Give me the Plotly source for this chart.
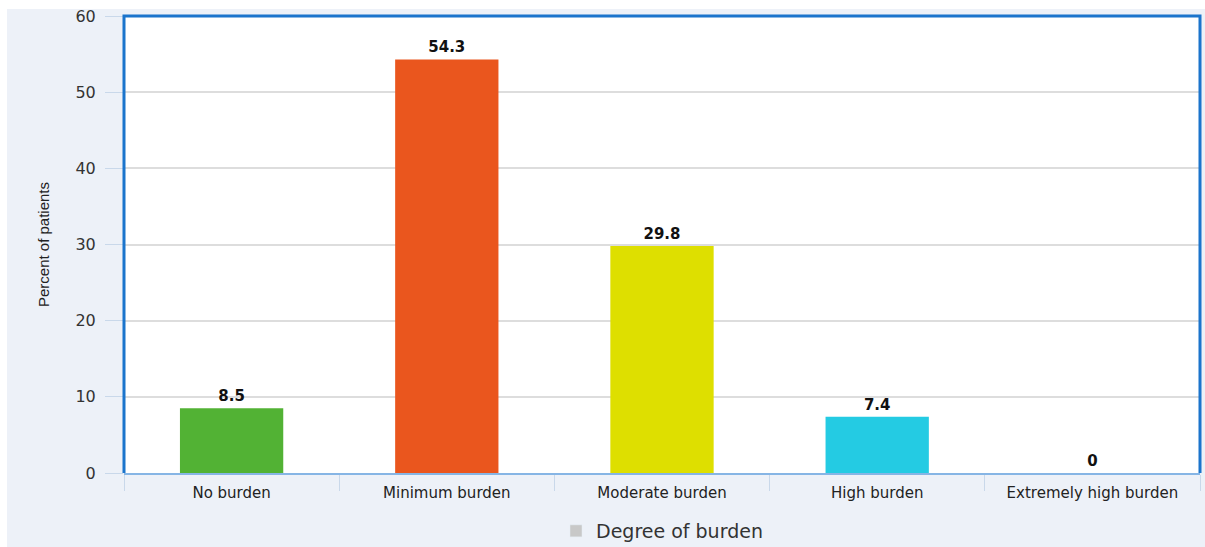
import plotly.graph_objects as go

categories = ["No burden", "Minimum burden", "Moderate burden", "High burden", "Extremely high burden"]
values = [8.5, 54.3, 29.8, 7.4, 0]
bar_colors = ["#52B234", "#EA561E", "#DEDF00", "#24CBE3", "#9B59B6"]
value_labels = ["8.5", "54.3", "29.8", "7.4", "0"]
y_ticks = [0, 10, 20, 30, 40, 50, 60]
legend_name = "Degree of burden"
y_title = "Percent of patients"

W, H = 1205, 547
ml, mr, mt, mb = 124, 5, 16, 74
pw = W - ml - mr
ph = H - mt - mb

fig = go.Figure()
fig.add_trace(go.Bar(
    x=categories, y=values,
    marker=dict(color=bar_colors, line=dict(width=0)),
    text=value_labels, textposition="outside", cliponaxis=False,
    textfont=dict(family="DejaVu Sans", size=15, color="#111111", weight="bold"),
    showlegend=False, width=0.48,
))
fig.add_trace(go.Bar(
    x=[categories[0]], y=[None], name=legend_name,
    marker=dict(color="#C8C8C8"), showlegend=True,
))

# white strips outside the light panel (left and top)
fig.add_shape(type="rect", xref="paper", yref="paper",
              x0=-ml / pw, x1=(7 - ml) / pw, y0=-mb / ph, y1=(ph + mt) / ph,
              fillcolor="white", line=dict(width=0), layer="below")
fig.add_shape(type="rect", xref="paper", yref="paper",
              x0=-ml / pw, x1=(pw + mr) / pw, y0=(ph + mt - 9) / ph, y1=(ph + mt) / ph,
              fillcolor="white", line=dict(width=0), layer="below")
# blue frame (top, left, right)
fig.add_shape(type="path", xref="paper", yref="paper",
              path="M 0,0 L 0,1 L 1,1 L 1,0",
              line=dict(color="#1B74CC", width=3), layer="above")

fig.update_layout(
    width=W, height=H,
    margin=dict(l=ml, r=mr, t=mt, b=mb, autoexpand=False),
    paper_bgcolor="#EDF1F8", plot_bgcolor="white",
    barmode="overlay",
    font=dict(family="DejaVu Sans", size=14, color="#333333"),
    legend=dict(orientation="h", x=0.5, xanchor="center",
                y=(473 - 531) / ph, yanchor="middle",
                font=dict(family="DejaVu Sans", size=19, color="#333333"),
                bgcolor="rgba(0,0,0,0)"),
    xaxis=dict(
        tickson="boundaries", ticks="outside", ticklen=16, tickcolor="#C9D8EA", tickwidth=1,
        showline=True, linecolor="#86B5E5", linewidth=2,
        showgrid=False, tickfont=dict(family="DejaVu Sans", size=15, color="#222222"),
        ticklabelstandoff=5,
        range=[-0.5, 4.5],
    ),
    yaxis=dict(
        range=[0, 60], tickvals=y_ticks, ticks="outside", ticklen=18, tickcolor="#C9D8EA",
        showgrid=True, gridcolor="#DDDDDD", gridwidth=2, zeroline=False,
        tickfont=dict(family="DejaVu Sans", size=16, color="#333333"),
        ticklabelstandoff=6,
        title=dict(text=y_title, standoff=22,
                   font=dict(family="Liberation Sans Narrow, Arial Narrow, sans-serif", size=15, color="#222222")),
    ),
)

fig.write_html("out.html")
